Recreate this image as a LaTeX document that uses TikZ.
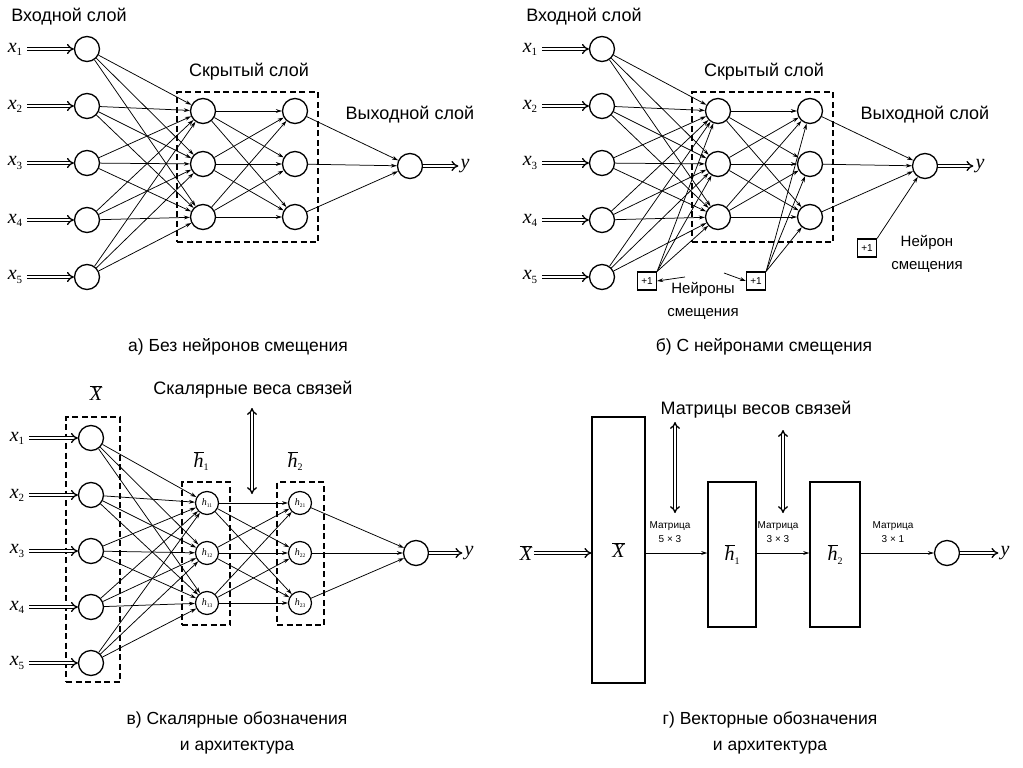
\documentclass[tikz,border=0pt]{standalone}
\usepackage{fontspec}
\setmainfont{Liberation Sans}
\newfontfamily\serifit{Liberation Serif}[UprightFont=*-Italic]
\newfontfamily\serifup{Liberation Serif}
\usetikzlibrary{arrows.meta}
\newcommand\vx[2]{{\serifit #1}\raisebox{-0.3ex}{\serifup\fontsize{11}{11}\selectfont #2}}
\newcommand\ovl[1]{$\overline{\mbox{\serifit #1}}$}
\newcommand\ovh[1]{$\overline{\mbox{\serifit h}}$\raisebox{-0.3ex}{\serifup\fontsize{10}{10}\selectfont #1}}
\newcommand\hs[1]{{\serifit h}\raisebox{-0.3ex}{\serifup\fontsize{5.5}{6}\selectfont #1}}
\begin{document}
\begin{tikzpicture}[x=1pt,y=-1pt,
  neuron/.style={circle,draw,line width=1.3pt,minimum size=25pt,inner sep=0pt},
  sneuron/.style={circle,draw,line width=1.2pt,minimum size=23pt,inner sep=0pt,font=\fontsize{10}{10}\selectfont},
  conn/.style={line width=0.75pt,-{Stealth[length=6pt,width=3.8pt]}},
  dbl/.style={double,double distance=2pt,line width=1.3pt,-{Implies}},
  dbltwo/.style={double,double distance=2pt,line width=1.3pt,{Implies}-{Implies}},
  lbl/.style={font=\fontsize{18}{21}\selectfont,inner sep=0pt},
  lbltwo/.style={font=\fontsize{15}{23}\selectfont,inner sep=0pt,align=center},
  captxt/.style={font=\fontsize{17.5}{26}\selectfont,align=center,inner sep=0pt},
  smalltxt/.style={font=\fontsize{10}{14}\selectfont,align=center,inner sep=0pt},
  mlbl/.style={font=\fontsize{20}{22}\selectfont,inner sep=2pt},
  dbox/.style={draw,line width=1.3pt,dash pattern=on 6pt off 3.5pt,inner sep=0pt},
  biasbox/.style={draw,line width=1.3pt,minimum width=19pt,minimum height=18pt,inner sep=0pt,font=\fontsize{10}{11}\selectfont},
  rectbox/.style={draw,line width=1.4pt,inner sep=0pt,font=\fontsize{20}{22}\selectfont}
]
\useasboundingbox (0,0) rectangle (1023,768);

% ---------- panels a and b ----------
\foreach \p/\dx in {a/0,b/515}{
  \begin{scope}[shift={(\dx,0)}]
    \node[dbox,minimum width=141pt,minimum height=150pt] (\p-box) at (247.5,167) {};
    \foreach \i/\y in {1/49,2/106,3/163,4/220,5/277}{
      \node[neuron] (\p-i\i) at (87,\y) {};
      \node[mlbl] (\p-x\i) at (15,\y) {\vx{x}{\i}};
      \draw[dbl,shorten <=3pt] (\p-x\i) -- (\p-i\i);
    }
    \foreach \j/\y in {1/111,2/164,3/217}{
      \node[neuron] (\p-h\j) at (203,\y) {};
      \node[neuron] (\p-g\j) at (295,\y) {};
    }
    \node[neuron] (\p-o) at (410,166) {};
    \node[mlbl] (\p-y) at (465,166) {{\serifit y}};
    \draw[dbl] (\p-o) -- (\p-y);
    \foreach \i in {1,...,5}{\foreach \j in {1,2,3}{\draw[conn] (\p-i\i) -- (\p-h\j);}}
    \foreach \i in {1,2,3}{\foreach \j in {1,2,3}{\draw[conn] (\p-h\i) -- (\p-g\j);}}
    \foreach \j in {1,2,3}{\draw[conn] (\p-g\j) -- (\p-o);}
    \node[lbl] (\p-tin) at (69,17) {Входной слой};
    \node[lbl] (\p-thid) at (249,72) {Скрытый слой};
    \node[lbl] (\p-tout) at (410,115) {Выходной слой};
  \end{scope}
}
\node[captxt] (a-cap) at (238,347) {а) Без нейронов смещения};
\node[captxt] (b-cap) at (764,347) {б) С нейронами смещения};

% bias neurons (panel b)
\node[biasbox] (b-b1) at (647,281) {+1};
\node[biasbox] (b-b2) at (756,281) {+1};
\node[biasbox] (b-b3) at (867,248) {+1};
\foreach \j in {1,2,3}{
  \draw[conn] (b-b1.north east) -- (b-h\j);
  \draw[conn] (b-b2.north east) -- (b-g\j);
}
\draw[conn] (b-b3.north east) -- (b-o);
\node[lbltwo] (b-nl) at (703,301) {Нейроны\\смещения};
\coordinate (b-n1) at (685,277);
\coordinate (b-n2) at (724,273);
\draw[conn] (b-n1) -- (b-b1.east);
\draw[conn] (b-n2) -- (b-b2.west);
\node[lbltwo] (b-nl3) at (927,254) {Нейрон\\смещения};

% ---------- panel c ----------
\node[dbox,minimum width=54pt,minimum height=265pt] (c-xbox) at (93,549.5) {};
\node[dbox,minimum width=48pt,minimum height=143pt] (c-h1box) at (206,553.5) {};
\node[dbox,minimum width=47pt,minimum height=143pt] (c-h2box) at (300.5,553.5) {};
\node[mlbl] (c-xl) at (96,393) {\ovl{X}};
\node[mlbl] (c-h1l) at (201,461) {\ovh{1}};
\node[mlbl] (c-h2l) at (295,461) {\ovh{2}};
\foreach \i/\y in {1/438,2/495,3/551,4/607,5/663}{
  \node[neuron] (c-i\i) at (91,\y) {};
  \node[mlbl] (c-x\i) at (17,\y) {\vx{x}{\i}};
  \draw[dbl,shorten <=3pt] (c-x\i) -- (c-i\i);
}
\foreach \j/\y in {1/503,2/553,3/603}{
  \node[sneuron] (c-h\j) at (207,\y) {\hs{1\j}};
  \node[sneuron] (c-g\j) at (300,\y) {\hs{2\j}};
}
\node[neuron] (c-o) at (416,553) {};
\node[mlbl] (c-y) at (469,553) {{\serifit y}};
\draw[dbl] (c-o) -- (c-y);
\foreach \i in {1,...,5}{\foreach \j in {1,2,3}{\draw[conn] (c-i\i) -- (c-h\j);}}
\foreach \i in {1,2,3}{\foreach \j in {1,2,3}{\draw[conn] (c-h\i) -- (c-g\j);}}
\foreach \j in {1,2,3}{\draw[conn] (c-g\j) -- (c-o);}
\node[lbl] (c-wl) at (253,390) {Скалярные веса связей};
\coordinate (c-w1) at (252,408);
\coordinate (c-w2) at (252,494);
\draw[dbltwo] (c-w1) -- (c-w2);
\node[captxt] (c-cap) at (237,733) {в) Скалярные обозначения\\и архитектура};

% ---------- panel d ----------
\node[rectbox,minimum width=53pt,minimum height=266pt] (d-X) at (618.5,550) {\ovl{X}};
\node[rectbox,minimum width=48pt,minimum height=145pt] (d-h1) at (732,554.5) {\ovh{1}};
\node[rectbox,minimum width=50pt,minimum height=145pt] (d-h2) at (835,554.5) {\ovh{2}};
\node[neuron] (d-o) at (947,553) {};
\node[mlbl] (d-xl) at (526,553) {\ovl{X}};
\draw[dbl] (d-xl) -- (d-X.west |- d-xl);
\draw[conn] (d-X.east |- d-o) -- (d-h1.west |- d-o);
\draw[conn] (d-h1.east |- d-o) -- (d-h2.west |- d-o);
\draw[conn] (d-h2.east |- d-o) -- (d-o);
\node[mlbl] (d-y) at (1005,553) {{\serifit y}};
\draw[dbl] (d-o) -- (d-y);
\node[smalltxt] (d-m1) at (670,532) {Матрица\\5 × 3};
\node[smalltxt] (d-m2) at (778,532) {Матрица\\3 × 3};
\node[smalltxt] (d-m3) at (893,532) {Матрица\\3 × 1};
\node[lbl] (d-wl) at (756,410) {Матрицы весов связей};
\coordinate (d-w1) at (675,422);
\coordinate (d-w2) at (675,513);
\coordinate (d-w3) at (783,430);
\coordinate (d-w4) at (783,513);
\draw[dbltwo] (d-w1) -- (d-w2);
\draw[dbltwo] (d-w3) -- (d-w4);
\node[captxt] (d-cap) at (770,733) {г) Векторные обозначения\\и архитектура};
\end{tikzpicture}
\end{document}
